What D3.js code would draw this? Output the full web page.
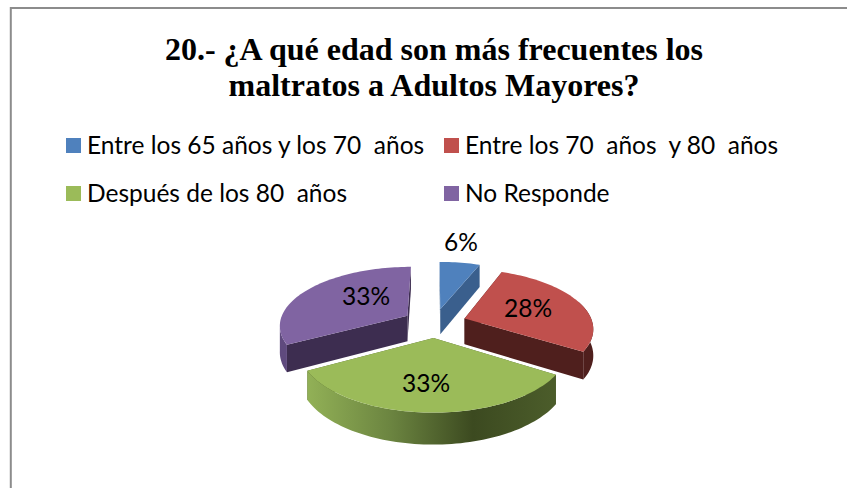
<!DOCTYPE html>
<html><head><meta charset="utf-8">
<script src="https://cdn.jsdelivr.net/npm/d3@7"></script>
<style>html,body{margin:0;padding:0;background:#fff}svg{display:block}text{white-space:pre}</style>
</head><body><svg id="c" width="847" height="488"></svg>
<script>
const categories = ["Entre los 65 años y los 70  años","Entre los 70  años  y 80  años","Después de los 80  años","No Responde"];
const values = [6,28,33,33];
const labels = ["6%","28%","33%","33%"];
const titleLines = ["20.- ¿A qué edad son más frecuentes los","maltratos a Adultos Mayores?"];
const topColors = ["#4f81bd","#c0504d","#9bbb59","#8064a2"];
const sideColors = ["#3a5f8d","#4f1f1d","#4b5c2a","#3d2d50"];
const rimColors = ["#3a5f8d","#4f1f1d","url(#gw)","#5f4a7e"];

const W=847,H=488;
const svg=d3.select("#c");
const cx=434.5,cy=323,R=128,explode=32,tilt=0.455,persp=0.15,depth=26;

// frame
svg.append("path").attr("d",`M10.8,${H} V8 H${W}`).attr("fill","none").attr("stroke","#8c8c8c").attr("stroke-width",2);

// title
svg.append("g").selectAll("text").data(titleLines).join("text")
 .attr("x",434).attr("y",(d,i)=>60+i*35.5).attr("text-anchor","middle")
 .attr("font-family","Liberation Serif").attr("font-weight","bold").attr("font-size",32).attr("fill","#000")
 .text(d=>d);

// legend
const col=d3.scaleOrdinal().domain([0,1]).range([66,444]);
const row=d3.scalePoint().domain([0,1]).range([146,194]);
const lg=svg.append("g").selectAll("g").data(categories).join("g")
 .attr("transform",(d,i)=>`translate(${col(i%2)},${row(Math.floor(i/2))})`);
lg.append("rect").attr("x",0).attr("y",-8).attr("width",15).attr("height",15).attr("fill",(d,i)=>topColors[i]);
lg.append("text").attr("x",21).attr("y",8).attr("font-family","Lato").attr("font-size",24.5).attr("fill","#000").text(d=>d);

// pie
const pie=d3.pie().sort(null).startAngle(0).endAngle(2*Math.PI)(values);
function proj(th,r,e,mid,dz){
  const X=r*Math.sin(th)+e*Math.sin(mid);
  const Z=-r*Math.cos(th)-e*Math.cos(mid);
  const f=1/(1-persp*Z/R);
  return [cx+X*f, cy+Z*tilt*f+(dz?depth*f:0)];
}
const line=d3.line();
const defs=svg.append("defs");
const grad=defs.append("linearGradient").attr("id","gw").attr("gradientUnits","userSpaceOnUse")
  .attr("x1",305).attr("x2",552).attr("y1",0).attr("y2",0);
[[0,"#93b257"],[0.35,"#6b8440"],[0.68,"#3c4a20"],[1,"#4b5c2a"]].forEach(s=>grad.append("stop").attr("offset",s[0]).attr("stop-color",s[1]));
function arcPts(a0,a1,mid,dz){
  const n=Math.max(2,Math.ceil((a1-a0)/0.03));
  return d3.range(n+1).map(i=>proj(a0+(a1-a0)*i/n,R,explode,mid,dz));
}
const order=[0,3,1,2];
const g=svg.append("g");
order.forEach(i=>{
  const s=pie[i],a0=s.startAngle,a1=s.endAngle,mid=(a0+a1)/2;
  const apex=proj(0,0,explode,mid,false),apexD=proj(0,0,explode,mid,true);
  [a0,a1].forEach(a=>{
    g.append("path").attr("fill",sideColors[i])
     .attr("d",line([apex,proj(a,R,explode,mid,false),proj(a,R,explode,mid,true),apexD])+"Z");
  });
  const v0=Math.max(a0,Math.PI*0.4),v1=Math.min(a1,Math.PI*1.45);
  if(v1>v0){
    const t=arcPts(v0,v1,mid,false),b=arcPts(v0,v1,mid,true).reverse();
    g.append("path").attr("fill",rimColors[i]).attr("d",line(t.concat(b))+"Z");
  }
  g.append("path").attr("fill",topColors[i])
   .attr("d",line([apex].concat(arcPts(a0,a1,mid,false)))+"Z");
});

// data labels
const labelPos=[[461,243],[528,309],[426,384],[366,297]];
svg.append("g").selectAll("text").data(labels).join("text")
 .attr("x",(d,i)=>labelPos[i][0]).attr("y",(d,i)=>labelPos[i][1]+8)
 .attr("text-anchor","middle").attr("font-family","Lato").attr("font-size",24.5).attr("fill","#000").text(d=>d);
</script></body></html>
